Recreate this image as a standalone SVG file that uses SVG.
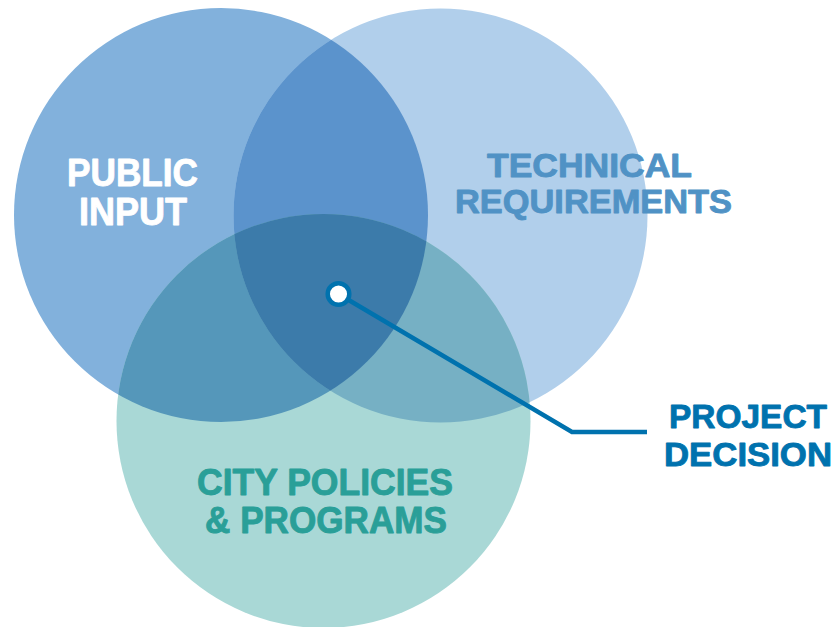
<svg xmlns="http://www.w3.org/2000/svg" width="838" height="627" viewBox="0 0 838 627">
<style>
.lbl{font-family:"Liberation Sans",Arial,sans-serif;font-weight:bold;stroke-width:0.9;stroke-linejoin:round}
</style>
<defs>
<clipPath id="cL"><circle cx="221" cy="215" r="207"/></clipPath>
<clipPath id="cR"><circle cx="440.5" cy="215.5" r="207"/></clipPath>
<clipPath id="cB"><circle cx="323.5" cy="421" r="207"/></clipPath>
</defs>
<rect width="838" height="627" fill="#ffffff"/>
<g id="public-input">
<circle cx="221" cy="215" r="207" fill="#82B1DC"/>
</g>
<g id="technical-requirements">
<circle cx="440.5" cy="215.5" r="207" fill="#B1CFEB"/>
</g>
<g id="city-policies">
<circle cx="323.5" cy="421" r="207" fill="#A9D8D6"/>
</g>
<g id="overlaps">
<circle cx="440.5" cy="215.5" r="207" fill="#5B93CC" clip-path="url(#cL)"/>
<circle cx="323.5" cy="421" r="207" fill="#5597BA" clip-path="url(#cL)"/>
<circle cx="323.5" cy="421" r="207" fill="#76B0C4" clip-path="url(#cR)"/>
<g clip-path="url(#cL)"><circle cx="323.5" cy="421" r="207" fill="#3C7BAA" clip-path="url(#cR)"/></g>
</g>
<g id="labels">
<text class="lbl" x="67" y="186" font-size="38" fill="#ffffff" stroke="#ffffff" textLength="131" lengthAdjust="spacingAndGlyphs">PUBLIC</text>
<text class="lbl" x="79" y="225" font-size="38" fill="#ffffff" stroke="#ffffff" textLength="108" lengthAdjust="spacingAndGlyphs">INPUT</text>
<text class="lbl" x="487" y="177" font-size="34" fill="#5092C5" stroke="#5092C5" textLength="205" lengthAdjust="spacingAndGlyphs">TECHNICAL</text>
<text class="lbl" x="455" y="213" font-size="34" fill="#5092C5" stroke="#5092C5" textLength="277" lengthAdjust="spacingAndGlyphs">REQUIREMENTS</text>
<text class="lbl" x="197" y="495" font-size="36" fill="#2A9F98" stroke="#2A9F98" textLength="256" lengthAdjust="spacingAndGlyphs">CITY POLICIES</text>
<text class="lbl" x="205" y="533" font-size="36" fill="#2A9F98" stroke="#2A9F98" textLength="242" lengthAdjust="spacingAndGlyphs">&amp; PROGRAMS</text>
</g>
<g id="connectors">
<polyline points="338.5,294 572,432 647,432" fill="none" stroke="#0072AE" stroke-width="4.5"/>
</g>
<g id="project-decision">
<circle cx="338.5" cy="294" r="10.8" fill="#ffffff" stroke="#0072AE" stroke-width="4.5"/>
<text class="lbl" x="669" y="428" font-size="34" fill="#0072AE" stroke="#0072AE" textLength="158" lengthAdjust="spacingAndGlyphs">PROJECT</text>
<text class="lbl" x="664" y="466" font-size="34" fill="#0072AE" stroke="#0072AE" textLength="168" lengthAdjust="spacingAndGlyphs">DECISION</text>
</g>
</svg>
